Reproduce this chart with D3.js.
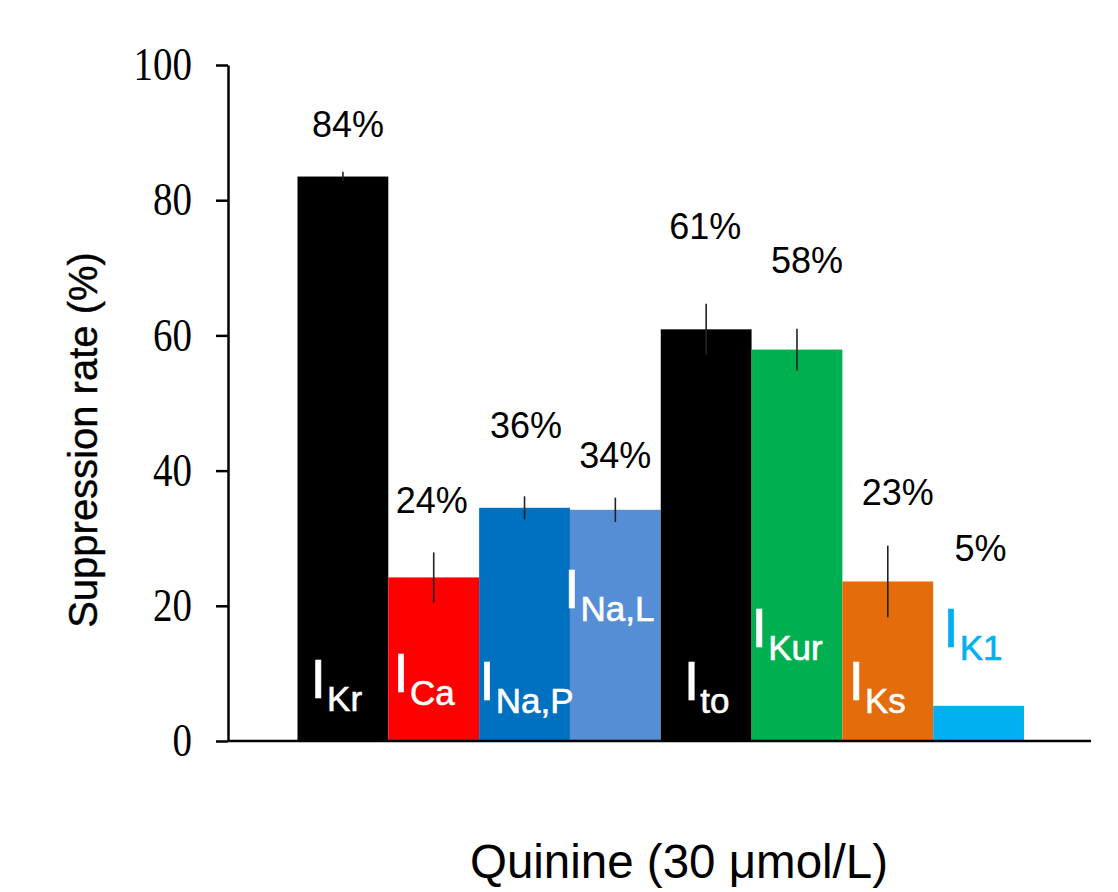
<!DOCTYPE html>
<html>
<head>
<meta charset="utf-8">
<script src="https://cdn.jsdelivr.net/npm/d3@7/dist/d3.min.js"></script>
<style>
  body { margin: 0; background: #fff; }
  text { font-family: "Liberation Sans", Arial, sans-serif; }
</style>
</head>
<body>
<div id="chart"></div>
<script>
// currents (subscripts of I), suppression rate (%) and error (±)
const currents = ['Kr', 'Ca', 'Na,P', 'Na,L', 'to', 'Kur', 'Ks', 'K1'];
const rates = [83.5, 24.2, 34.5, 34.2, 60.9, 57.9, 23.6, 5.2];
const errors = [0.7, 3.7, 1.7, 1.8, 3.8, 3.1, 5.3, 0];
const pctLabels = ['84%', '24%', '36%', '34%', '61%', '58%', '23%', '5%'];
const yTicks = [0, 20, 40, 60, 80, 100];
const barColors = ['#000000', '#ff0000', '#0070c0', '#558ed5', '#000000', '#00b050', '#e46c0a', '#00b0f0'];
const nameColors = ['#fff', '#fff', '#fff', '#fff', '#fff', '#fff', '#fff', '#00b0f0'];

// hand placement of the annotations, as in the original figure
const pctAt = [89.3, 33.7, 44.8, 40.4, 74.3, 69.3, 34.9, 26.6];   // baseline, in % units
const pctDx = [5, -2, 1.5, 0, -1, 10, 10, 2];
const nameDx = [13, 5, 0, -6, 23, 0, 6, 10];                     // from left edge of bar
const nameLift = [43, 49, 41, 133, 41, 94, 41, 94];               // baseline above x axis, px

const width = 1118, height = 892;
const margin = { top: 65, right: 27, bottom: 151, left: 228 };
const innerW = width - margin.left - margin.right;
const innerH = height - margin.top - margin.bottom;

const svg = d3.select('#chart').append('svg')
  .attr('width', width)
  .attr('height', height);

const g = svg.append('g')
  .attr('transform', `translate(${margin.left},${margin.top})`);

const x = d3.scaleBand()
  .domain(currents)
  .range([69.5, 796])
  .padding(0);

const y = d3.scaleLinear()
  .domain([0, 100])
  .range([innerH, 0]);

// bars
g.selectAll('rect.bar')
  .data(currents)
  .enter()
  .append('rect')
  .attr('class', 'bar')
  .attr('x', d => x(d))
  .attr('y', (d, i) => y(rates[i]))
  .attr('width', x.bandwidth())
  .attr('height', (d, i) => innerH - y(rates[i]))
  .attr('fill', (d, i) => barColors[i]);

// error bars (no caps)
g.selectAll('line.err')
  .data(currents.filter((d, i) => errors[i] > 0))
  .enter()
  .append('line')
  .attr('class', 'err')
  .attr('x1', d => x(d) + x.bandwidth() / 2)
  .attr('x2', d => x(d) + x.bandwidth() / 2)
  .attr('y1', d => y(rates[currents.indexOf(d)] + errors[currents.indexOf(d)]))
  .attr('y2', d => y(rates[currents.indexOf(d)] - errors[currents.indexOf(d)]))
  .attr('stroke', '#222')
  .attr('stroke-width', 1.6);

// percent labels
g.selectAll('text.pct')
  .data(currents)
  .enter()
  .append('text')
  .attr('class', 'pct')
  .attr('x', (d, i) => x(d) + x.bandwidth() / 2 + pctDx[i])
  .attr('y', (d, i) => y(pctAt[i]))
  .attr('text-anchor', 'middle')
  .style('font-size', '36px')
  .attr('fill', '#000')
  .text((d, i) => pctLabels[i]);

// current names: I with subscript
const names = g.selectAll('text.name')
  .data(currents)
  .enter()
  .append('text')
  .attr('class', 'name')
  .attr('x', (d, i) => x(d) + nameDx[i])
  .attr('y', (d, i) => innerH - nameLift[i])
  .attr('fill', (d, i) => nameColors[i])
  .attr('stroke', (d, i) => nameColors[i])
  .attr('stroke-width', 0.6);

names.append('tspan')
  .style('font-size', '56px')
  .text('I');

names.append('tspan')
  .attr('dy', 13)
  .attr('dx', 1)
  .style('font-size', '35px')
  .text(d => d);

// axes
const yAxis = d3.axisLeft(y)
  .tickValues(yTicks)
  .tickSize(12)
  .tickPadding(24)
  .tickSizeOuter(0);

const yg = g.append('g').call(yAxis);
yg.select('.domain').attr('stroke', '#000').attr('stroke-width', 2.5);
yg.selectAll('.tick line').attr('stroke', '#000').attr('stroke-width', 2.5);
yg.selectAll('.tick text')
  .style('font-family', '"Liberation Serif", "Times New Roman", serif')
  .style('font-size', '39px')
  .attr('transform', 'scale(1,1.18)')
  .attr('fill', '#000');

g.append('line')
  .attr('x1', 0)
  .attr('x2', innerW)
  .attr('y1', innerH)
  .attr('y2', innerH)
  .attr('stroke', '#000')
  .attr('stroke-width', 2.5);

// titles
svg.append('text')
  .attr('transform', 'translate(97,440) rotate(-90)')
  .attr('text-anchor', 'middle')
  .style('font-size', '40px')
  .attr('fill', '#000')
  .attr('stroke', '#000')
  .attr('stroke-width', 0.4)
  .text('Suppression rate (%)');

svg.append('text')
  .attr('x', 679)
  .attr('y', 878)
  .attr('text-anchor', 'middle')
  .style('font-size', '47.5px')
  .attr('fill', '#000')
  .text('Quinine (30 μmol/L)');
</script>
</body>
</html>
